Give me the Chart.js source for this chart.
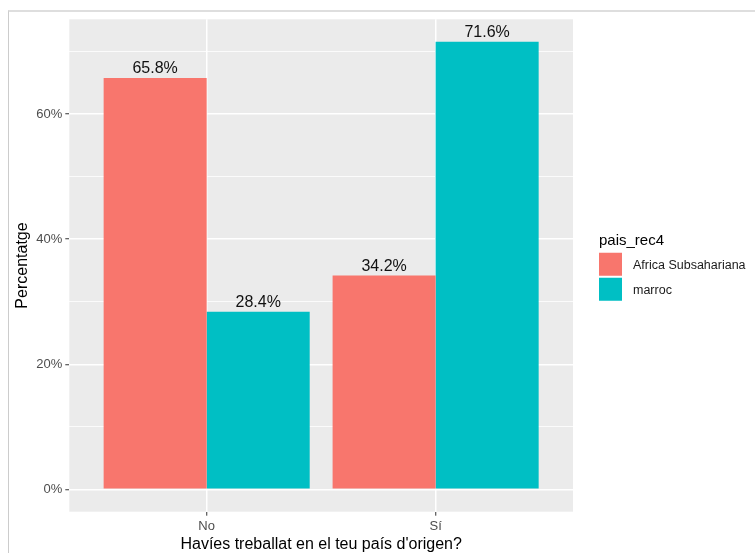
<!DOCTYPE html>
<html>
<head>
<meta charset="utf-8">
<script src="https://cdn.jsdelivr.net/npm/chart.js@4.4.0/dist/chart.umd.min.js"></script>
<style>
  html, body { margin: 0; padding: 0; background: #fff; }
  #wrap { position: relative; width: 755px; height: 553px; overflow: hidden; }
  #frame {
    position: absolute; left: 8px; top: 10px; right: -4px; bottom: -4px;
    border-top: 2px solid #dedede; border-left: 1px solid #cccccc;
    pointer-events: none;
  }
</style>
</head>
<body>
<div id="wrap">
  <canvas id="chart" width="755" height="553"></canvas>
  <div id="frame"></div>
</div>
<script>
// Data (ggplot-style dodged bar chart).
const categories = ["No", "Sí"];
const seriesNames = ["Africa Subsahariana", "marroc"];
const africaValues = [65.8, 34.2];
const marrocValues = [28.4, 71.6];
const seriesColors = ["#F8766D", "#00BFC4"];
// 0/20/40/60 carry labels; 10/30/50/70 are minor grid lines only.
const yTickValues = [0, 10, 20, 30, 40, 50, 60, 70];
const xTitle = "Havíes treballat en el teu país d'origen?";
const yTitle = "Percentatge";
const legendTitle = "pais_rec4";

const FAMILY = '"Liberation Sans", Arial, Helvetica, sans-serif';
const PANEL = "#EBEBEB";
const TICK_TEXT = "#4D4D4D";
const TICK_MARK = "#333333";

// ggplot's default 5% expansion on a continuous axis, 0.6 on a discrete one.
const yMaxData = Math.max(...africaValues, ...marrocValues);
const yPad = yMaxData * 0.05;

const isMajor = (v) => v % 20 === 0;

// Grey panel behind the grid.
const panelBg = {
  id: "panelBg",
  beforeDraw(chart) {
    const { ctx, chartArea: a } = chart;
    ctx.save();
    ctx.fillStyle = PANEL;
    ctx.fillRect(a.left, a.top, a.right - a.left, a.bottom - a.top);
    ctx.restore();
  },
};

// Percent label just above each bar.
const barTopLabels = {
  id: "barTopLabels",
  afterDatasetsDraw(chart) {
    const { ctx } = chart;
    ctx.save();
    ctx.font = `16px ${FAMILY}`;
    ctx.fillStyle = "#111";
    ctx.textAlign = "center";
    ctx.textBaseline = "alphabetic";
    chart.data.datasets.forEach((ds, di) => {
      chart.getDatasetMeta(di).data.forEach((bar, i) => {
        ctx.fillText(ds.data[i].y.toFixed(1) + "%", bar.x, bar.y - 5);
      });
    });
    ctx.restore();
  },
};

// ggplot-like legend to the right of the panel.
const sideLegend = {
  id: "sideLegend",
  afterDraw(chart) {
    const { ctx, chartArea: a } = chart;
    const left = a.right + 26;
    const keySize = 23, keyGap = 2;
    const n = chart.data.datasets.length;
    const blockH = 22.5 + n * keySize + (n - 1) * keyGap;
    const top = (a.top + a.bottom) / 2 - blockH / 2;
    ctx.save();
    ctx.font = `15px ${FAMILY}`;
    ctx.fillStyle = "#000";
    ctx.textAlign = "left";
    ctx.textBaseline = "alphabetic";
    ctx.fillText(legendTitle, left, top + 14.5);
    chart.data.datasets.forEach((ds, i) => {
      const y = top + 22.5 + i * (keySize + keyGap);
      ctx.fillStyle = ds.backgroundColor;
      ctx.fillRect(left, y, keySize, keySize);
      ctx.fillStyle = "#1a1a1a";
      ctx.font = `12.5px ${FAMILY}`;
      ctx.textBaseline = "middle";
      ctx.fillText(ds.label, left + 34, y + keySize / 2 + 1);
    });
    ctx.restore();
  },
};

const toPoints = (vals) => vals.map((v, i) => ({ x: i + 1, y: v }));

new Chart(document.getElementById("chart"), {
  type: "bar",
  data: {
    datasets: [
      { label: seriesNames[0], data: toPoints(africaValues), backgroundColor: seriesColors[0] },
      { label: seriesNames[1], data: toPoints(marrocValues), backgroundColor: seriesColors[1] },
    ],
  },
  options: {
    responsive: false,
    animation: false,
    devicePixelRatio: 1,
    layout: { padding: { left: 0, right: 182, top: 19.3, bottom: 0 } },
    datasets: { bar: { barPercentage: 1, categoryPercentage: 0.9, borderWidth: 0 } },
    plugins: { legend: { display: false }, tooltip: { enabled: false } },
    scales: {
      x: {
        type: "linear",
        offset: false,
        min: 0.4,
        max: categories.length + 0.6,
        afterBuildTicks: (s) => { s.ticks = categories.map((_, i) => ({ value: i + 1 })); },
        afterFit: (s) => { s.height = 41.3; },
        ticks: {
          autoSkip: false, maxRotation: 0, padding: 3,
          color: TICK_TEXT, font: { family: FAMILY, size: 13 },
          callback: (v) => categories[v - 1] ?? "",
        },
        grid: {
          offset: false, color: "#fff", lineWidth: 1.5,
          tickColor: TICK_MARK, tickLength: 4, tickWidth: 1,
        },
        border: { display: false },
        title: {
          display: true, text: xTitle, color: "#000",
          font: { family: FAMILY, size: 16, lineHeight: 1 },
          padding: { top: 0, bottom: 0 },
        },
      },
      y: {
        min: -yPad,
        max: yMaxData + yPad,
        afterBuildTicks: (s) => { s.ticks = yTickValues.map((v) => ({ value: v })); },
        afterFit: (s) => { s.width = 69.3; },
        ticks: {
          padding: 3, color: TICK_TEXT, font: { family: FAMILY, size: 13 },
          callback: (v) => (isMajor(v) ? v + "%" : ""),
        },
        grid: {
          color: "#fff",
          lineWidth: (c) => (c.tick && isMajor(c.tick.value) ? 1.5 : 0.8),
          tickColor: (c) => (c.tick && isMajor(c.tick.value) ? TICK_MARK : "rgba(0,0,0,0)"),
          tickLength: 4, tickWidth: 1,
        },
        border: { display: false },
        title: {
          display: true, text: yTitle, color: "#000",
          font: { family: FAMILY, size: 16, lineHeight: 1.2 },
          padding: { top: 13, bottom: 0 },
        },
      },
    },
  },
  plugins: [panelBg, barTopLabels, sideLegend],
});
</script>
</body>
</html>
